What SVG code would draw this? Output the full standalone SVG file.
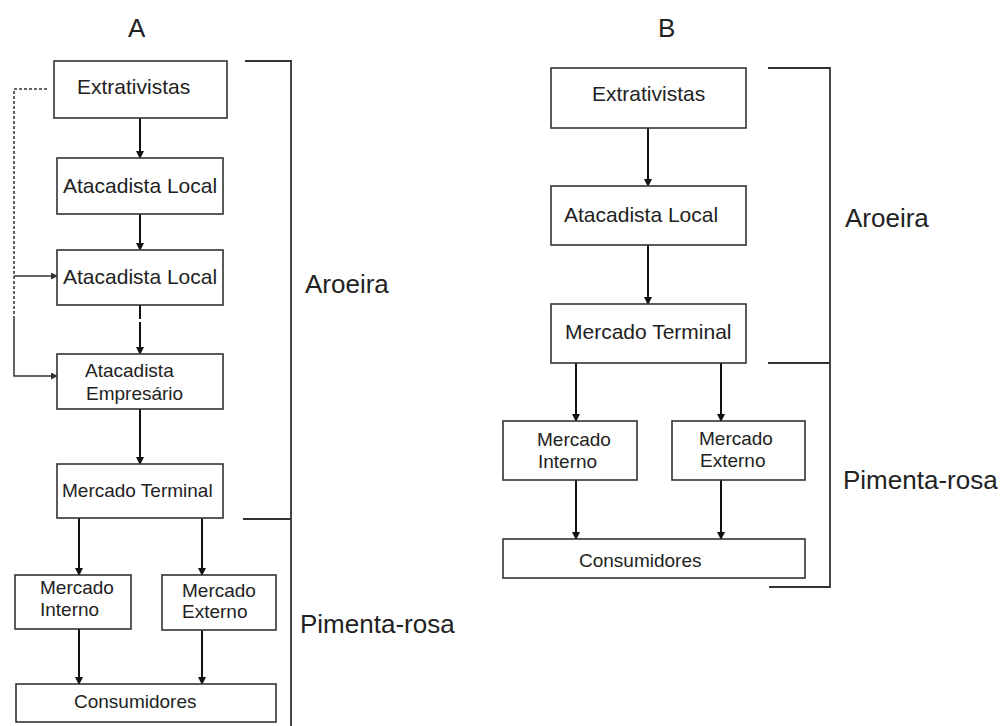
<svg xmlns="http://www.w3.org/2000/svg" width="1006" height="726" viewBox="0 0 1006 726">
<style>
.box{fill:#fff;stroke:#333;stroke-width:1.6}
.t{font-family:"Liberation Sans",Arial,sans-serif;fill:#222}
.big{font-size:21px}
.sm{font-size:19px}
.lab{font-size:26px}
.c{stroke:#111;stroke-width:2;fill:none}
.thin{stroke:#333;stroke-width:1.5;fill:none}
.br{stroke:#333;stroke-width:1.8;fill:none}
</style>
<defs>
<marker id="ah" markerWidth="8" markerHeight="8" refX="7" refY="4" orient="auto" markerUnits="userSpaceOnUse">
<path d="M0,0 L8,4 L0,8 Z" fill="#111"/>
</marker>
<marker id="ahs" markerWidth="7" markerHeight="7" refX="6" refY="3.5" orient="auto" markerUnits="userSpaceOnUse">
<path d="M0,0 L7,3.5 L0,7 Z" fill="#333"/>
</marker>
</defs>
<rect width="1006" height="726" fill="#fff"/>
<text class="t lab" x="128" y="37">A</text>
<text class="t lab" x="658" y="37">B</text>

<g id="connectors">
<!-- A -->
<line class="c" x1="140" y1="118" x2="140" y2="158" marker-end="url(#ah)"/>
<line class="c" x1="140" y1="214" x2="140" y2="250" marker-end="url(#ah)"/>
<line class="c" x1="140" y1="305" x2="140" y2="354" stroke-dasharray="14 3 30" marker-end="url(#ah)"/>
<line class="c" x1="140" y1="409" x2="140" y2="464" marker-end="url(#ah)"/>
<line class="c" x1="79" y1="518" x2="79" y2="575" marker-end="url(#ah)"/>
<line class="c" x1="202" y1="518" x2="202" y2="575" marker-end="url(#ah)"/>
<line class="c" x1="79" y1="629" x2="79" y2="684" marker-end="url(#ah)"/>
<line class="c" x1="202" y1="630" x2="202" y2="684" marker-end="url(#ah)"/>
<path class="thin" d="M47,89 H14 V318" stroke-dasharray="3 2"/>
<path class="thin" d="M14,318 V376 H57" marker-end="url(#ahs)"/>
<line class="thin" x1="14" y1="276" x2="57" y2="276" marker-end="url(#ahs)"/>
<!-- B -->
<line class="c" x1="648" y1="128" x2="648" y2="186" marker-end="url(#ah)"/>
<line class="c" x1="648" y1="245" x2="648" y2="304" marker-end="url(#ah)"/>
<line class="c" x1="576" y1="363" x2="576" y2="421" marker-end="url(#ah)"/>
<line class="c" x1="721" y1="363" x2="721" y2="421" marker-end="url(#ah)"/>
<line class="c" x1="576" y1="480" x2="576" y2="539" marker-end="url(#ah)"/>
<line class="c" x1="721" y1="480" x2="721" y2="539" marker-end="url(#ah)"/>
</g>

<g id="brackets">
<path class="br" d="M245,61 H291 V726"/>
<line class="br" x1="243" y1="519" x2="291" y2="519"/>
<path class="br" d="M768,68 H830 V587 H769"/>
<line class="br" x1="768" y1="363" x2="830" y2="363"/>
<text class="t lab" x="305" y="293">Aroeira</text>
<text class="t lab" x="300" y="633">Pimenta-rosa</text>
<text class="t lab" x="845" y="227">Aroeira</text>
<text class="t lab" x="843" y="489">Pimenta-rosa</text>
</g>

<g id="a-extrativistas"><rect class="box" x="54" y="61" width="173" height="57"/><text class="t big" x="77" y="94">Extrativistas</text></g>
<g id="a-atacadista-local-1"><rect class="box" x="57" y="158" width="166" height="56"/><text class="t big" x="63" y="193">Atacadista Local</text></g>
<g id="a-atacadista-local-2"><rect class="box" x="57" y="250" width="166" height="55"/><text class="t big" x="63" y="284">Atacadista Local</text></g>
<g id="a-atacadista-empresario"><rect class="box" x="57" y="354" width="166" height="55"/><text class="t sm" x="85" y="377">Atacadista</text><text class="t sm" x="86" y="400">Empresário</text></g>
<g id="a-mercado-terminal"><rect class="box" x="57" y="464" width="166" height="54"/><text class="t sm" x="62" y="497">Mercado Terminal</text></g>
<g id="a-mercado-interno"><rect class="box" x="15" y="575" width="116" height="54"/><text class="t sm" x="40" y="594">Mercado</text><text class="t sm" x="40" y="616">Interno</text></g>
<g id="a-mercado-externo"><rect class="box" x="162" y="575" width="114" height="55"/><text class="t sm" x="182" y="597">Mercado</text><text class="t sm" x="182" y="618">Externo</text></g>
<g id="a-consumidores"><rect class="box" x="16" y="684" width="260" height="38"/><text class="t sm" x="74" y="708">Consumidores</text></g>

<g id="b-extrativistas"><rect class="box" x="551" y="68" width="195" height="60"/><text class="t big" x="592" y="101">Extrativistas</text></g>
<g id="b-atacadista-local"><rect class="box" x="551" y="186" width="195" height="59"/><text class="t big" x="564" y="222">Atacadista Local</text></g>
<g id="b-mercado-terminal"><rect class="box" x="551" y="304" width="195" height="59"/><text class="t big" x="565" y="339">Mercado Terminal</text></g>
<g id="b-mercado-interno"><rect class="box" x="503" y="421" width="134" height="59"/><text class="t sm" x="537" y="446">Mercado</text><text class="t sm" x="538" y="468">Interno</text></g>
<g id="b-mercado-externo"><rect class="box" x="672" y="421" width="133" height="59"/><text class="t sm" x="699" y="445">Mercado</text><text class="t sm" x="700" y="467">Externo</text></g>
<g id="b-consumidores"><rect class="box" x="503" y="539" width="302" height="39"/><text class="t sm" x="579" y="567">Consumidores</text></g>
</svg>
